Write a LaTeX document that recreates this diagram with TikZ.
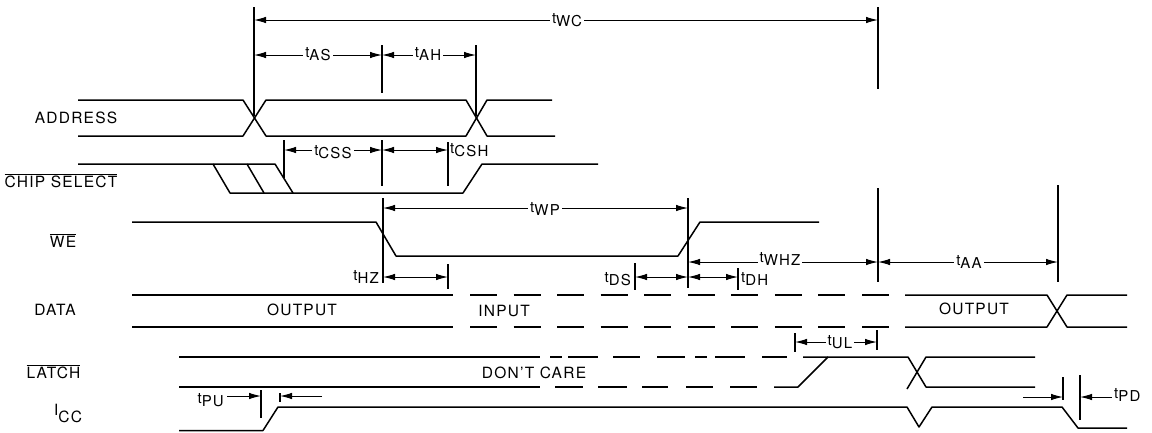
\documentclass[tikz,border=0pt]{standalone}
\usepackage{fontspec}
\setmainfont{TeX Gyre Heros}[LetterSpace=8]
\usetikzlibrary{arrows.meta}
\newcommand\tl[1]{t\raisebox{-3.5pt}{#1}}
\newcommand\ovl[1]{$\overline{\hbox{#1}}$}
\begin{document}
\begin{tikzpicture}[x=1pt,y=-1pt,
  sig/.style={line width=1.5pt,line join=round},
  refl/.style={line width=1.2pt},
  dim/.style={line width=1pt,{Latex[length=12pt,width=6.5pt]}-{Latex[length=12pt,width=6.5pt]}},
  oneway/.style={line width=1pt,-{Latex[length=12pt,width=6.5pt]}},
  lbl/.style={fill=white,inner sep=2pt,anchor=base,font=\fontsize{15}{17}\selectfont},
  lblw/.style={inner sep=0pt,anchor=base west,font=\fontsize{15}{17}\selectfont},
  lble/.style={inner sep=0pt,anchor=base east,font=\fontsize{15}{17}\selectfont},
  sname/.style={inner sep=0pt,anchor=base,font=\fontsize{15.5}{18}\selectfont},
  dsh/.style={sig,dash pattern=on 27pt off 16.56pt}]
\useasboundingbox (0,0) rectangle (1152,432);

% ---------- signal names
\node[sname] (nAddr) at (76,123) {ADDRESS};
\node[sname] (nCS) at (61,187) {\ovl{CHIP SELECT}};
\node[sname] (nWE) at (63,247) {\ovl{WE}};
\node[sname] (nData) at (55,315) {DATA};
\node[sname] (nLatch) at (53.5,378) {\ovl{LATCH}};
\node[sname] (nIcc) at (68,415) {I\raisebox{-7pt}{CC}};

% ---------- ADDRESS
\draw[sig] (78,100) -- (243,100) -- (266,136) -- (466,136) -- (487,100) -- (552,100);
\draw[sig] (78,136) -- (243,136) -- (266,100) -- (466,100) -- (487,136) -- (555,136);

% ---------- CHIP SELECT
\draw[sig] (78,164) -- (275,164) -- (293,193) -- (463,193) -- (482,164) -- (598,164);
\draw[sig] (213,164) -- (230,193) -- (293,193);
\draw[sig] (247,164) -- (264,193);

% ---------- WE
\draw[sig] (132,222) -- (376,222) -- (396,256) -- (678,256) -- (700,222) -- (819,222);

% ---------- DATA
\draw[sig] (132,295) -- (453,295);
\draw[sig] (132,327) -- (453,327);
\draw[dsh] (470,295) -- (889,295);
\draw[dsh] (470,327) -- (889,327);
\draw[sig] (905,295) -- (1047,295) -- (1067,327) -- (1127,327);
\draw[sig] (905,327) -- (1047,327) -- (1067,295) -- (1127,295);
\node[sname] (out1) at (302,315) {OUTPUT};
\node[sname] (inp) at (504,316) {INPUT};
\node[sname] (out2) at (974,314) {OUTPUT};

% ---------- LATCH
\draw[sig] (179,357) -- (540,357);
\foreach \a/\b in {550/562,568/598,613/640,657/685,695/707,715/745,762/787}
  \draw[sig] (\a,357) -- (\b,357);
\draw[sig] (803,357) -- (908,357) -- (926,387) -- (1035,387);
\draw[sig] (907,389) -- (926,357) -- (1035,357);
\draw[sig] (179,387) -- (540,387);
\foreach \a/\b in {555/583,598/627,642/668,686/713,730/757}
  \draw[sig] (\a,387) -- (\b,387);
\draw[sig] (774,387) -- (798,387) -- (828,357);
\node[sname] (dc) at (534,378) {DON'T CARE};

% ---------- ICC
\draw[sig] (179,430.5) -- (263,430.5) -- (278,407) -- (907,407) -- (919,427) -- (932,407) -- (1062,407) -- (1078,428) -- (1127,428);

% ---------- reference lines
\draw[refl] (254,7) -- (254,116);
\draw[refl] (878,7) -- (878,89);
\draw[refl] (382,45) -- (382,93);
\draw[refl] (476,45) -- (476,116);
\draw[refl] (284,140) -- (284,178);
\draw[refl] (382,140) -- (382,186);
\draw[refl] (448,142) -- (448,186);
\draw[refl] (383,198) -- (383,283);
\draw[refl] (688,198) -- (688,288);
\draw[refl] (448,264) -- (448,289);
\draw[refl] (635,263) -- (635,290);
\draw[refl] (738,268) -- (738,290);
\draw[refl] (878,188) -- (878,282);
\draw[refl] (1058,185) -- (1058,282);
\draw[refl] (795,333) -- (795,352);
\draw[refl] (877,330) -- (877,350);
\draw[refl] (261,390) -- (261,418);
\draw[refl] (280,393) -- (280,402);
\draw[refl] (1063,377) -- (1063,400);
\draw[refl] (1080,375) -- (1080,420);

% ---------- dimension arrows
\draw[dim] (254,20) -- (878,20);
\node[lbl] (tWC) at (567,23) {\tl{WC}};
\draw[dim] (254,55) -- (382,55);
\node[lbl] (tAS) at (318,57) {\tl{AS}};
\draw[dim] (382,55) -- (476,55);
\node[lbl] (tAH) at (428,57) {\tl{AH}};
\draw[dim] (284,150) -- (382,150);
\node[lbl] (tCSS) at (333,155) {\tl{CSS}};
\draw[dim] (382,150) -- (448,150);
\node[lblw] (tCSH) at (450,153) {\tl{CSH}};
\draw[dim] (383,208) -- (688,208);
\node[lbl] (tWP) at (545,212) {\tl{WP}};
\draw[dim] (383,277) -- (448,277);
\node[lble] (tHZ) at (379,280) {\tl{HZ}};
\draw[dim] (635,277) -- (688,277);
\node[lble] (tDS) at (631,282) {\tl{DS}};
\draw[dim] (688,277) -- (738,277);
\node[lblw] (tDH) at (741,282) {\tl{DH}};
\draw[dim] (688,262) -- (878,262);
\node[lbl] (tWHZ) at (780,262) {\tl{WHZ}};
\draw[dim] (878,262) -- (1058,262);
\node[lbl] (tAA) at (969,265) {\tl{AA}};
\draw[dim] (795,342) -- (877,342);
\node[lbl] (tUL) at (840,345) {\tl{UL}};
\draw[oneway] (227,396) -- (261,396);
\draw[oneway] (322,396) -- (280,396);
\node[lble] (tPU) at (224,403) {\tl{PU}};
\draw[oneway] (1023,397) -- (1063,397);
\draw[oneway] (1112,397) -- (1080,397);
\node[lblw] (tPD) at (1114,398) {\tl{PD}};
\end{tikzpicture}
\end{document}
